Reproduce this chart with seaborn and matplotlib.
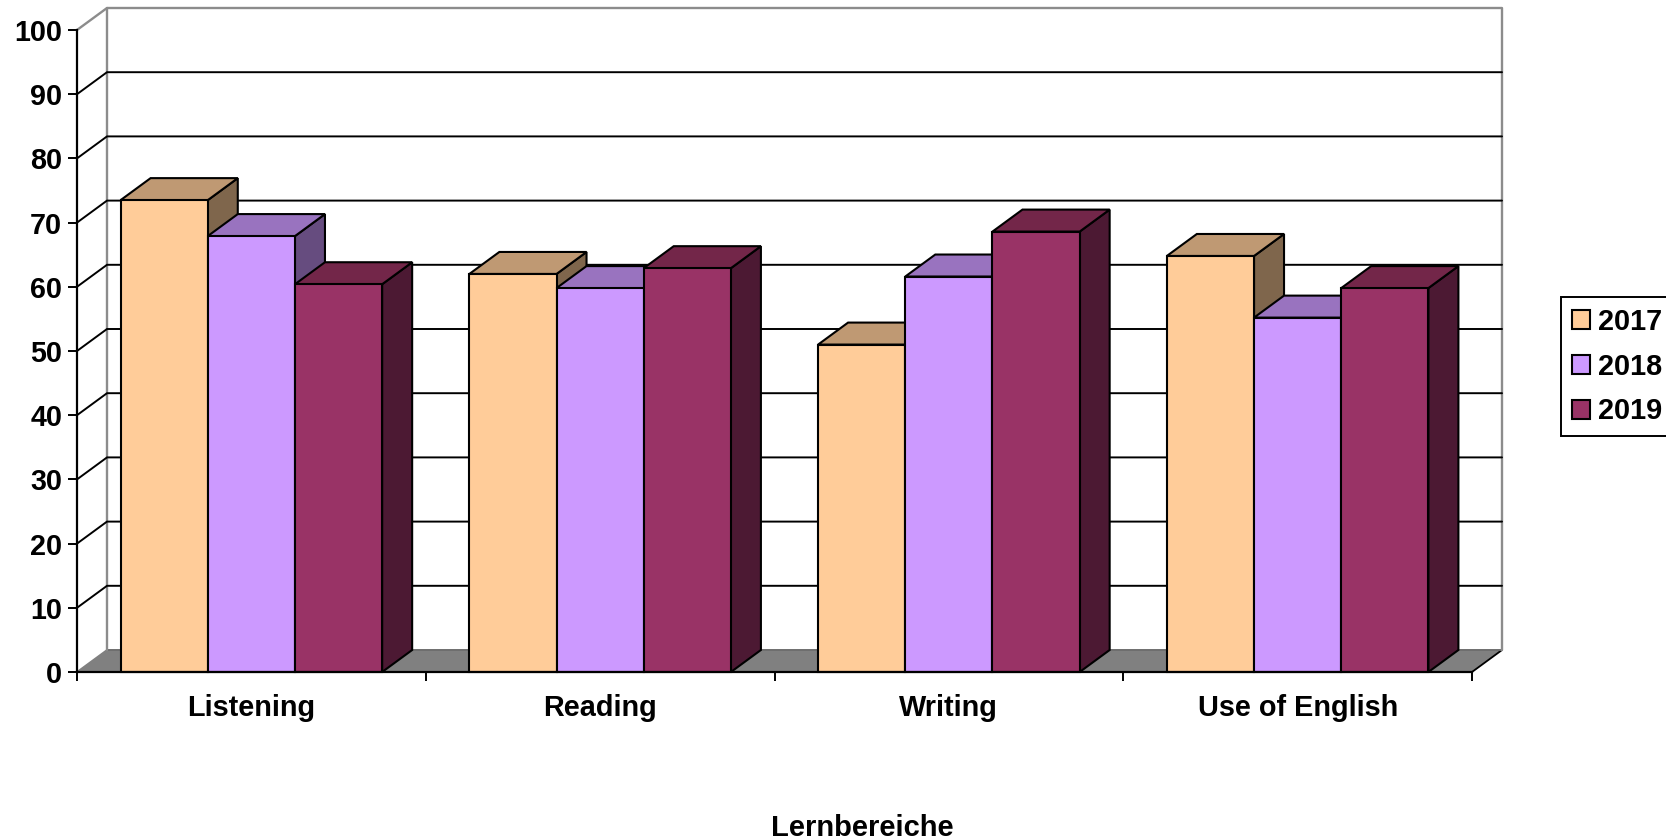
import matplotlib
matplotlib.use("Agg")
import matplotlib.pyplot as plt
import pandas as pd
import seaborn as sns
from matplotlib.patches import Polygon

categories = ["Listening", "Reading", "Writing", "Use of English"]
years = ["2017", "2018", "2019"]
values_2017 = [73.5, 62.0, 51.0, 64.8]
values_2018 = [67.9, 59.8, 61.6, 55.2]
values_2019 = [60.4, 62.9, 68.6, 59.8]
colors = ["#FFCC99", "#CC99FF", "#993366"]
tops = ["#BF9973", "#9973BF", "#732649"]
sides = ["#7F664C", "#664C7F", "#4C1933"]

df = pd.DataFrame({
    "Lernbereich": categories * 3,
    "Jahr": [y for y in years for _ in categories],
    "Wert": values_2017 + values_2018 + values_2019,
})

sns.set_style("white")
plt.rcParams["font.family"] = ["Liberation Sans", "DejaVu Sans"]
plt.rcParams["font.weight"] = "bold"
plt.rcParams["text.color"] = "black"

W, H = 1666, 839
fig = plt.figure(figsize=(W / 100, H / 100), dpi=100, facecolor="white")
L, R, T, B = 77, 1472, 30, 672
ax = fig.add_axes([L / W, 1 - B / H, (R - L) / W, (B - T) / H])
ax.set_facecolor("none")

edge_lw = 1.5
sns.barplot(data=df, x="Lernbereich", y="Wert", hue="Jahr", hue_order=years,
            palette=colors, width=0.75, gap=0, saturation=1, dodge=True,
            edgecolor="black", linewidth=edge_lw, ax=ax)

ax.set_xlim(-0.5, 3.5)
ax.set_ylim(0, 100)
dx = 30 / ((R - L) / 4)
dy = 22 / ((B - T) / 100)
x0, x1 = -0.5, 3.5

# floor and back wall
ax.add_patch(Polygon([(x0, 0), (x1, 0), (x1 + dx, dy), (x0 + dx, dy)], closed=True,
                     facecolor="#808080", edgecolor="none", zorder=1, clip_on=False))
ax.plot([x0, x0 + dx], [0, dy], color="#808080", lw=1.3, zorder=1.2, clip_on=False)
ax.plot([x1, x1 + dx], [0, dy], color="black", lw=1.3, zorder=1.2, clip_on=False)
ax.plot([x0 + dx, x1 + dx], [dy, dy], color="#6E6E6E", lw=1.4, zorder=1.2, clip_on=False)
wall_grey = "#8C8C8C"
ax.plot([x0, x0 + dx, x1 + dx, x1 + dx], [100, 100 + dy, 100 + dy, dy],
        color=wall_grey, lw=1.7, zorder=1.2, clip_on=False)
ax.plot([x0 + dx, x0 + dx], [dy, 100 + dy], color=wall_grey, lw=1.7, zorder=1.2, clip_on=False)
for v in range(10, 100, 10):
    ax.plot([x0, x0 + dx, x1 + dx], [v, v + dy, v + dy], color="black", lw=1.4,
            zorder=1.5, clip_on=False, solid_joinstyle="miter")

# 3D faces built from the bars seaborn drew
for i, container in enumerate(ax.containers):
    for p in container.patches:
        a, w, h = p.get_x(), p.get_width(), p.get_height()
        b = a + w
        z = 3 + i
        ax.add_patch(Polygon([(b, 0), (b + dx, dy), (b + dx, h + dy), (b, h)], closed=True,
                             facecolor=sides[i], edgecolor="black", lw=edge_lw, zorder=z,
                             clip_on=False, joinstyle="miter"))
        ax.add_patch(Polygon([(a, h), (a + dx, h + dy), (b + dx, h + dy), (b, h)], closed=True,
                             facecolor=tops[i], edgecolor="black", lw=edge_lw, zorder=z,
                             clip_on=False, joinstyle="miter"))
        p.set_zorder(z + 0.5)
        p.set_clip_on(False)

for s in ("top", "right"):
    ax.spines[s].set_visible(False)
for s in ("left", "bottom"):
    ax.spines[s].set_visible(True)
    ax.spines[s].set_color("black")
    ax.spines[s].set_linewidth(1.6)
    ax.spines[s].set_zorder(20)

fs_y = 20.7
fs_x = 20.8
ax.set_yticks(range(0, 101, 10))
ax.tick_params(axis="y", which="major", left=True, length=6.5, width=1.4, color="black",
               pad=4.2, labelsize=fs_y, labelcolor="black")
ax.set_xticks([x0 + k for k in range(5)])
ax.set_xticklabels([])
ax.set_xticks(range(4), labels=categories, minor=True)
ax.tick_params(axis="x", which="major", bottom=True, length=6.5, width=1.4, color="black")
ax.tick_params(axis="x", which="minor", bottom=False, length=0, pad=15.5, labelsize=fs_x,
               labelcolor="black")
for t in ax.get_xticklabels(minor=True) + ax.get_yticklabels():
    t.set_fontweight("bold")

ax.set_ylabel("")
ax.set_xlabel("Lernbereiche", fontsize=21.0, fontweight="bold", color="black")
ax.xaxis.set_label_coords((862 - L) / (R - L), -(828 - B) / (B - T), transform=ax.transAxes)
ax.xaxis.label.set_verticalalignment("center")

sns.move_legend(ax, loc="upper left", bbox_to_anchor=(1561 / W, 1 - 297 / H),
                bbox_transform=fig.transFigure, title=None, frameon=True, fancybox=False,
                edgecolor="black", facecolor="white", framealpha=1, fontsize=20.8,
                handlelength=0.64, handleheight=0.64, handletextpad=0.26, borderpad=0.38,
                labelspacing=0.58, borderaxespad=0, labelcolor="black")
leg = ax.get_legend()
leg.get_frame().set_linewidth(1.4)
leg.set_zorder(30)
for t in leg.get_texts():
    t.set_fontweight("bold")
    t.set_color("black")

fig.savefig("out.png", dpi=100, facecolor="white")
